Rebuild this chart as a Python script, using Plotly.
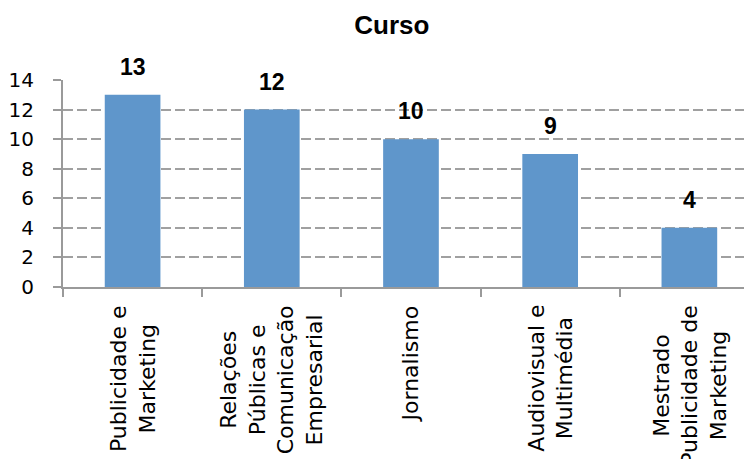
import plotly.graph_objects as go

# data
cursos = ["Publicidade e<br>Marketing",
          "Relações<br>Públicas e<br>Comunicação<br>Empresarial",
          "Jornalismo",
          "Audiovisual e<br>Multimédia",
          "Mestrado<br>Publicidade de<br>Marketing"]
alunos = [13, 12, 10, 9, 4]
y_ticks = [0, 2, 4, 6, 8, 10, 12, 14]

bar_color = "#5F96CB"
grid_color = "#A0A0A0"
axis_color = "#9A9A9A"

fig = go.Figure()
fig.add_trace(go.Bar(x=cursos, y=alunos, marker=dict(color=bar_color, line_width=0)))

# data labels above bars
for c, v in zip(cursos, alunos):
    fig.add_annotation(x=c, y=v, text="<b>" + str(v) + "</b>", showarrow=False,
                       yanchor="bottom", yshift=13,
                       font=dict(family="Liberation Sans", size=23, color="black"))

# category labels, rotated and centred line by line (like the original)
for c in cursos:
    fig.add_annotation(x=c, y=0, text=c, showarrow=False, textangle=-90,
                       align="center", yanchor="top", yshift=-16,
                       font=dict(family="DejaVu Sans", size=22, color="black"))

# page body has an 8px margin, so the figure is 8px smaller than the window
fig.update_layout(
    width=744, height=451,
    margin=dict(l=55, r=0, t=72, b=172, pad=0),
    paper_bgcolor="white", plot_bgcolor="white",
    bargap=0.6, showlegend=False,
    title=dict(text="<b>Curso</b>", x=0.516, xref="container", xanchor="center",
               y=0.962, yanchor="middle",
               font=dict(family="Liberation Sans", size=26, color="black")),
)
fig.update_yaxes(range=[0, 14], tickvals=y_ticks, showgrid=True, gridcolor=grid_color,
                 gridwidth=2, griddash="10px,4px", zeroline=False, automargin=False,
                 showline=True, linecolor=axis_color, linewidth=2,
                 ticks="outside", ticklen=8, tickwidth=2, tickcolor=axis_color,
                 ticklabelstandoff=15,
                 tickfont=dict(family="DejaVu Sans", size=20, color="black"))
fig.update_xaxes(range=[-0.5, 4.45], showgrid=False, showline=True, linecolor=axis_color,
                 linewidth=2, ticks="outside", ticklen=8, tickwidth=2, tickcolor=axis_color,
                 tickson="boundaries", showticklabels=False, automargin=False)

fig.write_html("out.html")
